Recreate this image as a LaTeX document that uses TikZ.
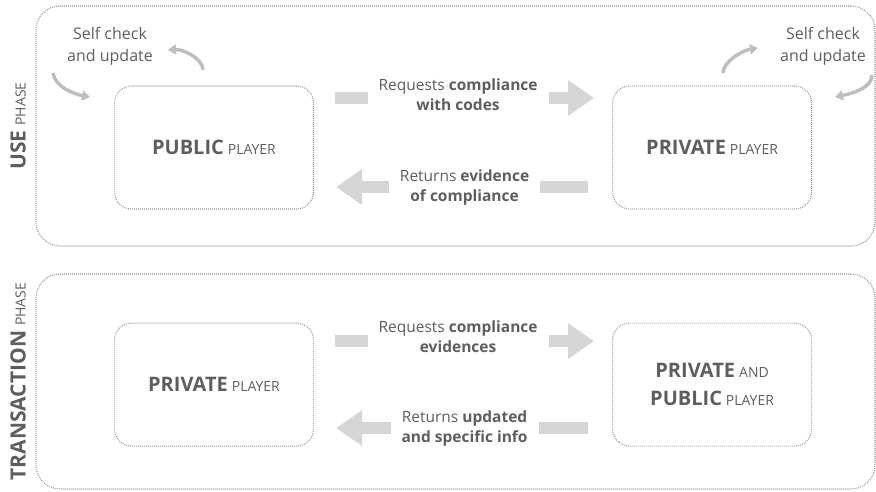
\documentclass[tikz,border=0pt]{standalone}
\usepackage{fontspec}
\setmainfont{Open Sans}
\usepackage{tikz}
\usetikzlibrary{arrows.meta,positioning}
\usepackage{xcolor}
\definecolor{txtgray}{HTML}{5E5E5E}
\definecolor{boxgray}{HTML}{929292}
\definecolor{arrgray}{HTML}{D5D5D5}
\definecolor{loopgray}{HTML}{BEBEBE}
\newcommand{\PlayerTag}[2]{{\fontsize{20}{28}\selectfont\bfseries #1}\hspace{4pt}{\fontsize{14}{28}\selectfont #2}}
\newcommand{\PhaseTag}[1]{{\fontsize{21}{26}\selectfont\bfseries #1}\hspace{5pt}{\fontsize{14}{26}\selectfont PHASE}}
\tikzset{
phasebox/.style={draw=boxgray, line width=1.2pt, dash pattern=on 0.8pt off 1.2pt, rounded corners=24pt, minimum width=839pt, inner sep=0pt},
player/.style={draw=boxgray, line width=1.1pt, dash pattern=on 0.8pt off 1.2pt, rounded corners=17pt, minimum width=199pt, minimum height=123pt, inner sep=0pt, align=center, text=txtgray, font=\fontsize{20}{28}\selectfont},
phaselab/.style={rotate=90, text=txtgray, inner sep=0pt},
msg/.style={fill=white, align=center, text=txtgray, inner xsep=11pt, inner ysep=2pt, font=\fontsize{15.5}{20}\selectfont},
note/.style={align=center, text=txtgray, font=\fontsize{16}{22}\selectfont},
fat/.style={draw=arrgray, line width=12pt, -{Triangle[width=34pt, length=26pt]}},
selfarr/.style={draw=loopgray, line width=3.5pt, -{Triangle[width=10pt, length=8pt]}}
}
\begin{document}
\begin{tikzpicture}[x=1pt, y=-1pt]
\useasboundingbox (0,0) rectangle (876,491);
% phase frames
\node[phasebox, minimum height=240pt] (usebox) at (455.5,126) {};
\node[phasebox, minimum height=215pt] (tradebox) at (455.5,381.5) {};
\node[phaselab] (uselab) at (18,126) {\PhaseTag{USE}};
\node[phaselab] (tradelab) at (18,381.5) {\PhaseTag{TRANSACTION}};
% players
\node[player] (pubU) at (214,147.5) {\PlayerTag{PUBLIC}{PLAYER}};
\node[player, right=298pt of pubU] (privU) {\PlayerTag{PRIVATE}{PLAYER}};
\node[player, below=113pt of pubU] (privB) {\PlayerTag{PRIVATE}{PLAYER}};
\node[player, right=298pt of privB] (mixB) {\PlayerTag{PRIVATE}{AND}\\\PlayerTag{PUBLIC}{PLAYER}};
% use phase messages
\draw[fat] ([xshift=21pt,yshift=49.5pt]pubU.east) -- node[msg, pos=0.475, yshift=3pt] (reqU) {Requests \textbf{compliance}\\\textbf{with codes}} ([xshift=-18pt,yshift=49.5pt]privU.west);
\draw[fat] ([xshift=-24pt,yshift=-39.5pt]privU.west) -- node[msg, pos=0.49] (retU) {Returns \textbf{evidence}\\\textbf{of compliance}} ([xshift=22pt,yshift=-39.5pt]pubU.east);
% transaction phase messages
\draw[fat] ([xshift=21pt,yshift=43.5pt]privB.east) -- node[msg, pos=0.475, yshift=4pt] (reqB) {Requests \textbf{compliance}\\\textbf{evidences}} ([xshift=-18pt,yshift=43.5pt]mixB.west);
\draw[fat] ([xshift=-24pt,yshift=-43.5pt]mixB.west) -- node[msg, pos=0.49] (retB) {Returns \textbf{updated}\\\textbf{and specific info}} ([xshift=22pt,yshift=-43.5pt]privB.east);
% self check loops
\node[note] (selfL) at (110,46) {Self check\\and update};
\node[note] (selfR) at (823,46) {Self check\\and update};
\coordinate (la) at (53,73);
\coordinate (lb) at (90,97);
\coordinate (lc) at (203,70);
\coordinate (ld) at (168,50);
\coordinate (ra) at (723,73);
\coordinate (rb) at (758,48);
\coordinate (rc) at (872,75);
\coordinate (rd) at (835,97);
\draw[selfarr] (la) .. controls +(2,14) and +(-16,-3) .. (lb);
\draw[selfarr] (lc) .. controls +(0,-12) and +(14,-1) .. (ld);
\draw[selfarr] (ra) .. controls +(0,-12) and +(-14,2) .. (rb);
\draw[selfarr] (rc) .. controls +(0,14) and +(14,-3) .. (rd);
\end{tikzpicture}
\end{document}
